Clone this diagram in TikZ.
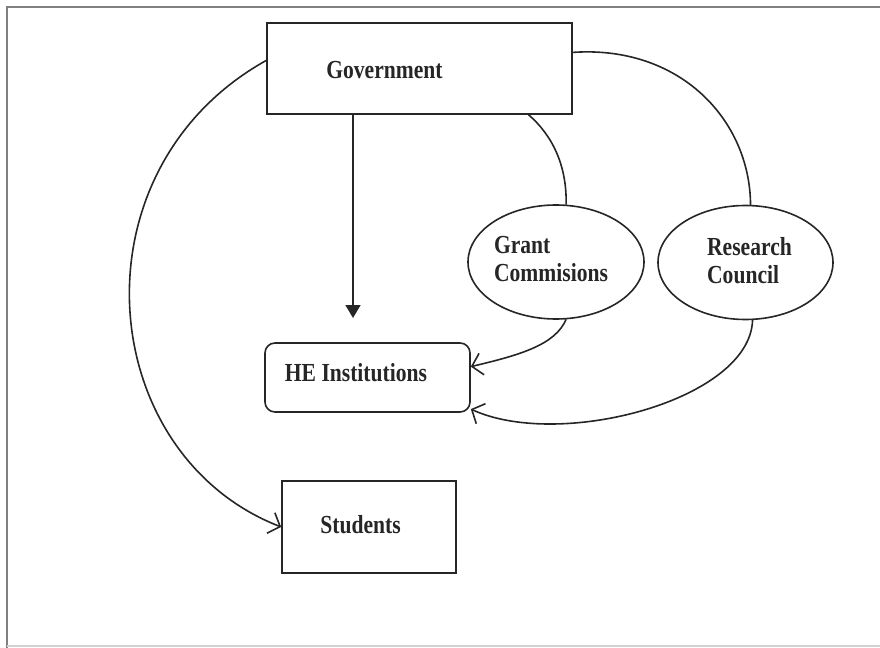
\documentclass[tikz,border=0pt]{standalone}
\usepackage{fontspec}
\setmainfont{Liberation Serif}[FakeStretch=0.83]
\usetikzlibrary{arrows.meta,shapes.geometric}

\tikzset{
	box/.style={draw, rectangle, inner sep=0pt},
	blob/.style={draw, ellipse, inner sep=0pt},
	lbl/.style={font=\fontsize{13}{14}\selectfont\bfseries, inner sep=0pt},
	barb/.style={-{Straight Barb[length=5pt, width=11pt]}},
	frame/.style={gray, line width=1pt}
}

\begin{document}
\begin{tikzpicture}[x=0.5pt, y=-0.5pt, line width=0.8pt, black!85]
			
			\useasboundingbox (0, 0) rectangle (880, 648);
			\draw [frame] (880, 7) -- (7, 7) -- (7, 648);
			\draw [gray!35] (7, 646) -- (880, 646);
			
			\node (govbox) [box, minimum width=152.5pt, minimum height=45.5pt] at (419.5, 68.5) {};
			\node (govtext) [lbl] at (384.5, 70) {Government};
			
			\node (hebox) [box, rounded corners=5pt, minimum width=102.5pt, minimum height=34.5pt] at (367.5, 377.5) {};
			\node (hetext) [lbl] at (356, 373) {HE Institutions};
			
			\node (stubox) [box, minimum width=87pt, minimum height=46pt] at (369, 527) {};
			\node (stutext) [lbl] at (360.5, 525) {Students};
			
			\node (grant) [blob, minimum width=88pt, minimum height=57pt] at (556, 262) {};
			\node (granttext) [lbl, align=left] at (551, 259) {Grant\\Commisions};
			
			\node (research) [blob, minimum width=87.5pt, minimum height=57pt] at (745.5, 262.5) {};
			\node (restext) [lbl, align=left] at (749.5, 261) {Research\\Council};
			
			% government to institutions
			\coordinate (hetip) at (353, 318);
			\draw [-{Triangle[length=6.5pt, width=7.5pt]}] (govbox.south -| hetip) -- (hetip);
			
			\draw [barb] (govbox.177) .. controls (70, 170) and (94, 454) .. (stubox.west);
			\draw (govbox.6.5) .. controls (680, 45) and (750, 120) .. (research.85);
			\draw (govbox.-23.5) .. controls (552, 135) and (567, 165) .. (grant.80);
			
			\draw [barb] (grant.-80) .. controls (555, 345) and (520, 355) .. (hebox.6);
			\draw [barb] (research.-83) .. controls (750, 400) and (560, 450) .. (hebox.-17);
			
\end{tikzpicture}
\end{document}
